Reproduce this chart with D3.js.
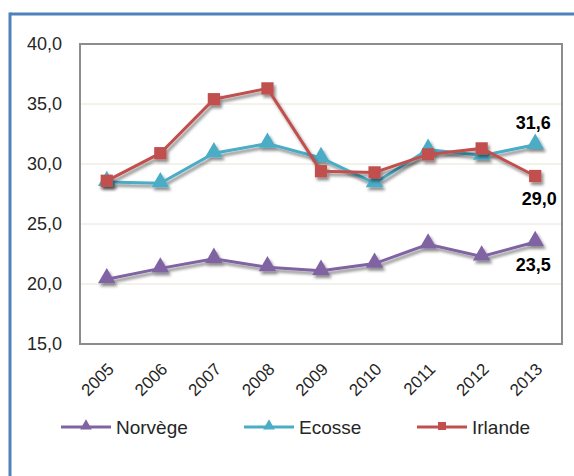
<!DOCTYPE html>
<html>
<head>
<meta charset="utf-8">
<script src="https://cdn.jsdelivr.net/npm/d3@7"></script>
<style>
  body { margin: 0; background: #fff; }
  text { font-family: "Liberation Sans", Arial, sans-serif; fill: #262626; }
</style>
</head>
<body>
<div id="chart"></div>
<script>
const years = ["2005", "2006", "2007", "2008", "2009", "2010", "2011", "2012", "2013"];
const norvege = [20.4, 21.3, 22.1, 21.4, 21.1, 21.7, 23.3, 22.3, 23.5];
const ecosse = [28.5, 28.4, 30.9, 31.7, 30.5, 28.4, 31.2, 30.7, 31.6];
const irlande = [28.6, 30.9, 35.4, 36.3, 29.4, 29.3, 30.8, 31.3, 29.0];
const yTicks = [15, 20, 25, 30, 35, 40];

const series = [
    {name: "Norvège", values: norvege, color: "#8064A2", marker: "triangle", label: "below"},
    {name: "Ecosse", values: ecosse, color: "#4BACC6", marker: "triangle", label: "above"},
    {name: "Irlande", values: irlande, color: "#C0504D", marker: "square", label: "below"}
];

let w = 574, h = 476;
let plot = {left: 80, top: 44, right: 562, bottom: 344};

let svg = d3.select("#chart")
    .append("svg")
    .attr("width", w)
    .attr("height", h);

// drop shadow used under lines and markers
let defs = svg.append("defs");
let f = defs.append("filter")
    .attr("id", "shadow")
    .attr("x", "-50%").attr("y", "-50%")
    .attr("width", "200%").attr("height", "200%");
f.append("feDropShadow")
    .attr("dx", 2).attr("dy", 3)
    .attr("stdDeviation", 1.8)
    .attr("flood-color", "#000")
    .attr("flood-opacity", 0.45);

// outer frame (blue)
svg.append("line")
    .attr("x1", 10).attr("x2", w)
    .attr("y1", 14).attr("y2", 14)
    .style("stroke", "#4F81BD").style("stroke-width", 3);
svg.append("line")
    .attr("x1", 10).attr("x2", 10)
    .attr("y1", 12.5).attr("y2", h)
    .style("stroke", "#4F81BD").style("stroke-width", 3);

let xScale = d3.scaleBand()
    .domain(years)
    .range([plot.left, plot.right]);

let yScale = d3.scaleLinear()
    .domain([15, 40])
    .range([plot.bottom, plot.top]);

// gridlines
svg.append("g")
    .selectAll("line")
    .data(yTicks.filter(d => d > 15 && d < 40))
    .join("line")
    .attr("x1", plot.left).attr("x2", plot.right)
    .attr("y1", d => yScale(d)).attr("y2", d => yScale(d))
    .style("stroke", "#E6E6D8").style("stroke-width", 1);

// plot frame
svg.append("rect")
    .attr("x", plot.left).attr("y", plot.top)
    .attr("width", plot.right - plot.left)
    .attr("height", plot.bottom - plot.top)
    .style("fill", "none")
    .style("stroke", "#8C8C8C")
    .style("stroke-width", 2);

// y axis labels
let fmt = d => d3.format(".1f")(d).replace(".", ",");
svg.append("g")
    .selectAll("text")
    .data(yTicks)
    .join("text")
    .attr("x", 62)
    .attr("y", d => yScale(d))
    .attr("dy", "0.35em")
    .attr("text-anchor", "end")
    .style("font-size", "18px")
    .text(fmt);

// x axis labels, rotated
svg.append("g")
    .selectAll("text")
    .data(years)
    .join("text")
    .attr("transform", d => "translate(" + (xScale(d) + xScale.bandwidth() / 2 + 4) + "," + (plot.bottom + 22) + ") rotate(-45)")
    .attr("text-anchor", "end")
    .attr("dy", "0.35em")
    .style("font-size", "17px")
    .text(d => d);

let cx = (d, i) => xScale(years[i]) + xScale.bandwidth() / 2;

let tri = d3.symbol().type(d3.symbolTriangle).size(135);
let sq = d3.symbol().type(d3.symbolSquare).size(150);

series.forEach(s => {
    let g = svg.append("g").attr("filter", "url(#shadow)");
    let line = d3.line()
        .x(cx)
        .y(d => yScale(d));
    g.append("path")
        .datum(s.values)
        .attr("d", line)
        .style("fill", "none")
        .style("stroke", s.color)
        .style("stroke-width", 3);
    g.selectAll("path.m")
        .data(s.values)
        .join("path")
        .attr("class", "m")
        .attr("transform", (d, i) => "translate(" + cx(d, i) + "," + (yScale(d) + (s.marker === "triangle" ? -1 : 0)) + ")")
        .attr("d", s.marker === "triangle" ? tri : sq)
        .style("fill", s.color);
});

// last value labels
series.forEach(s => {
    let last = s.values[s.values.length - 1];
    let i = s.values.length - 1;
    svg.append("text")
        .attr("x", cx(last, i) + (s.name === "Irlande" ? 4 : -2))
        .attr("y", yScale(last) + (s.label === "above" ? -16 : 29))
        .attr("text-anchor", "middle")
        .style("font-size", "18px")
        .style("font-weight", "bold")
        .style("fill", "#000")
        .text(fmt(last));
});

// legend
let legendX = [61, 244, 417];
let lg = svg.append("g")
    .selectAll("g")
    .data(series)
    .join("g")
    .attr("transform", (d, i) => "translate(" + legendX[i] + ",427)");
lg.append("line")
    .attr("x1", 0).attr("x2", 50)
    .style("stroke", d => d.color)
    .style("stroke-width", 3);
lg.append("path")
    .attr("transform", "translate(25,-1)")
    .attr("d", d => d.marker === "triangle" ? d3.symbol().type(d3.symbolTriangle).size(60)() : d3.symbol().type(d3.symbolSquare).size(64)())
    .style("fill", d => d.color);
lg.append("text")
    .attr("x", 55)
    .attr("dy", "0.35em")
    .style("font-size", "19px")
    .text(d => d.name);
</script>
</body>
</html>
